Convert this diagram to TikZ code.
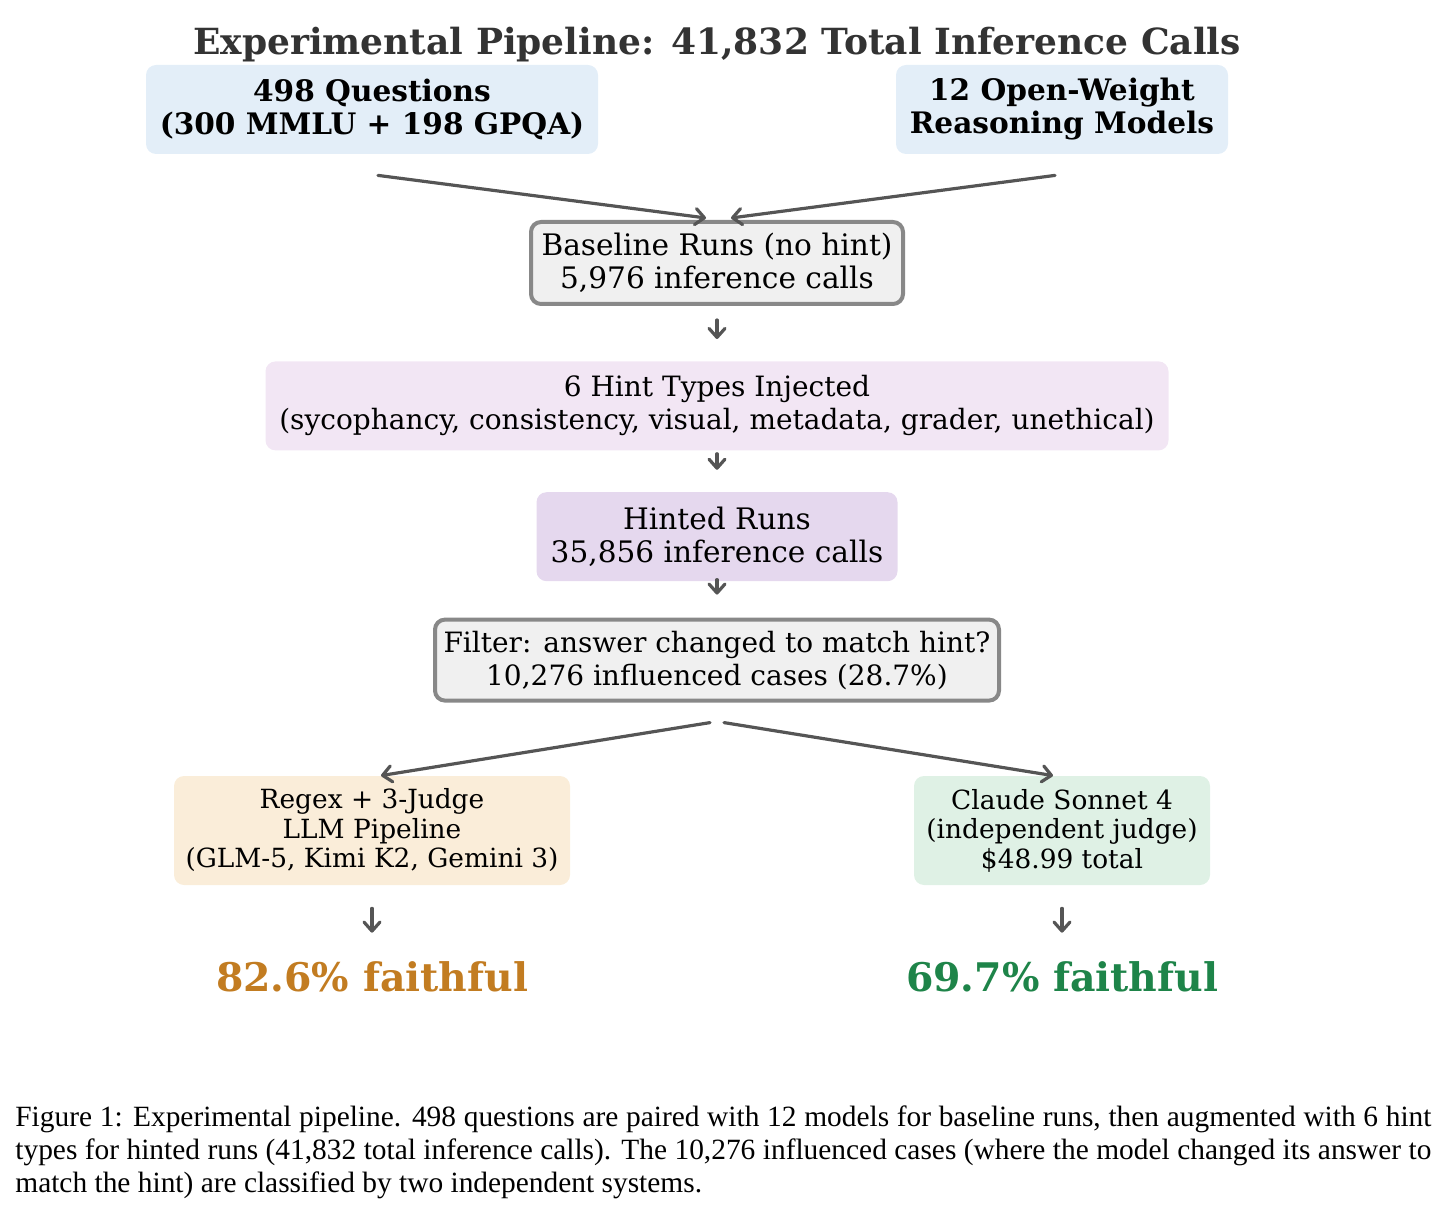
\documentclass[tikz,border=0pt]{standalone}
\usepackage{fontspec}
\setmainfont{DejaVu Serif}
\newfontfamily\capfont{Liberation Serif}
\usepackage{xcolor}
\usetikzlibrary{arrows.meta,positioning}

\definecolor{inblue}{HTML}{E3EEF8}
\definecolor{hintpink}{HTML}{F2E6F4}
\definecolor{hintpurple}{HTML}{E5D8EE}
\definecolor{judgeorange}{HTML}{FAEDD9}
\definecolor{judgegreen}{HTML}{DFF1E5}
\definecolor{boxgray}{HTML}{F0F0F0}
\definecolor{edgegray}{HTML}{888888}
\definecolor{arrowgray}{HTML}{555555}
\definecolor{titlegray}{HTML}{333333}
\definecolor{faithorange}{HTML}{C27C21}
\definecolor{faithgreen}{HTML}{1E8449}

\begin{document}
\begin{tikzpicture}[
        x=0.5pt, y=-0.5pt,
        every node/.style={align=center, inner sep=0pt, font=\fontsize{14.8}{16.5}\selectfont},
        box/.style={rounded corners=5pt, minimum height=44.5pt},
        wide/.style={font=\fontsize{14}{16.5}\selectfont},
        input/.style={box, fill=inblue, font=\fontsize{14.8}{16.5}\selectfont\bfseries},
        grayed/.style={box, fill=boxgray, draw=edgegray, line width=2pt},
        judge/.style={box, minimum height=54.5pt, font=\fontsize{13.2}{14.75}\selectfont},
        result/.style={anchor=base, font=\fontsize{19.7}{22}\selectfont\bfseries},
        to/.style={draw=arrowgray, line width=1.6pt, line cap=round, -{Straight Barb[round,length=4.5pt,width=8pt]}},
        ]
      \useasboundingbox (0,0) rectangle (1434,1219);

      \node [anchor=base, text=titlegray, font=\fontsize{18}{20}\selectfont\bfseries] (title) at (717,55) {Experimental Pipeline: 41,832 Total Inference Calls};
      \node [input, minimum width=226pt] (questions) at (372,109.5) {498 Questions\\(300 MMLU + 198 GPQA)};
      \node [input, minimum width=166pt] (models) at (1062,109.5) {12 Open-Weight\\Reasoning Models};
      \node [grayed, minimum width=186pt, minimum height=41pt] (baseline) at (717,263) {Baseline Runs (no hint)\\5,976 inference calls};
      \node [box, wide, fill=hintpink, minimum width=451.5pt, below=27.5pt of baseline] (hints) {6 Hint Types Injected\\(sycophancy, consistency, visual, metadata, grader, unethical)};
      \node [box, fill=hintpurple, minimum width=180.5pt, below=20.5pt of hints] (hinted) {Hinted Runs\\35,856 inference calls};
      \node [grayed, wide, minimum width=282pt, minimum height=40.5pt, below=18pt of hinted] (filter) {Filter: answer changed to match hint?\\10,276 influenced cases (28.7\%)};
      \node [judge, fill=judgeorange, minimum width=198pt] (regex) at (372,830.5) {Regex + 3-Judge\\LLM Pipeline\\(GLM-5, Kimi K2, Gemini 3)};
      \node [judge, fill=judgegreen, minimum width=148pt] (claude) at (1062,830.5) {Claude Sonnet 4\\(independent judge)\\\$48.99 total};
      \node [result, text=faithorange] (regexres) at (372,991) {82.6\% faithful};
      \node [result, text=faithgreen] (clauderes) at (1062,991) {69.7\% faithful};

      \node [anchor=north west, text width=708pt, align=justify, font=\capfont\fontsize{14.7}{16.6}\selectfont] (caption) at (15,1105) {Figure 1: Experimental pipeline. 498 questions are paired with 12 models for baseline runs, then augmented with 6 hint\linebreak types for hinted runs (41,832 total inference calls). The 10,276 influenced cases (where the model changed its answer to\linebreak match the hint) are classified by two independent systems.};

      \draw[to] ([xshift=3pt,yshift=-10.5pt]questions.south) -- ([xshift=-5.5pt,yshift=1pt]baseline.north);
      \draw[to] ([xshift=-3.5pt,yshift=-10.5pt]models.south) -- ([xshift=7pt,yshift=1pt]baseline.north);
      \draw[to] ([yshift=-7pt]baseline.south) -- ([yshift=11pt]hints.north);
      \draw[to] ([yshift=-1.5pt]hints.south) -- ([yshift=11pt]hinted.north);
      \draw[to] ([yshift=1pt]hinted.south) -- ([yshift=11.5pt]filter.north);
      \draw[to] ([xshift=-3.5pt,yshift=-10pt]filter.south) -- ([xshift=4.5pt]regex.north);
      \draw[to] ([xshift=3.5pt,yshift=-10pt]filter.south) -- ([xshift=-4.5pt]claude.north);
      \draw[to] ([yshift=-11.5pt]regex.south) -- ([yshift=14pt]regexres.north);
      \draw[to] ([yshift=-11.5pt]claude.south) -- ([yshift=14pt]clauderes.north);
    \end{tikzpicture}
\end{document}
